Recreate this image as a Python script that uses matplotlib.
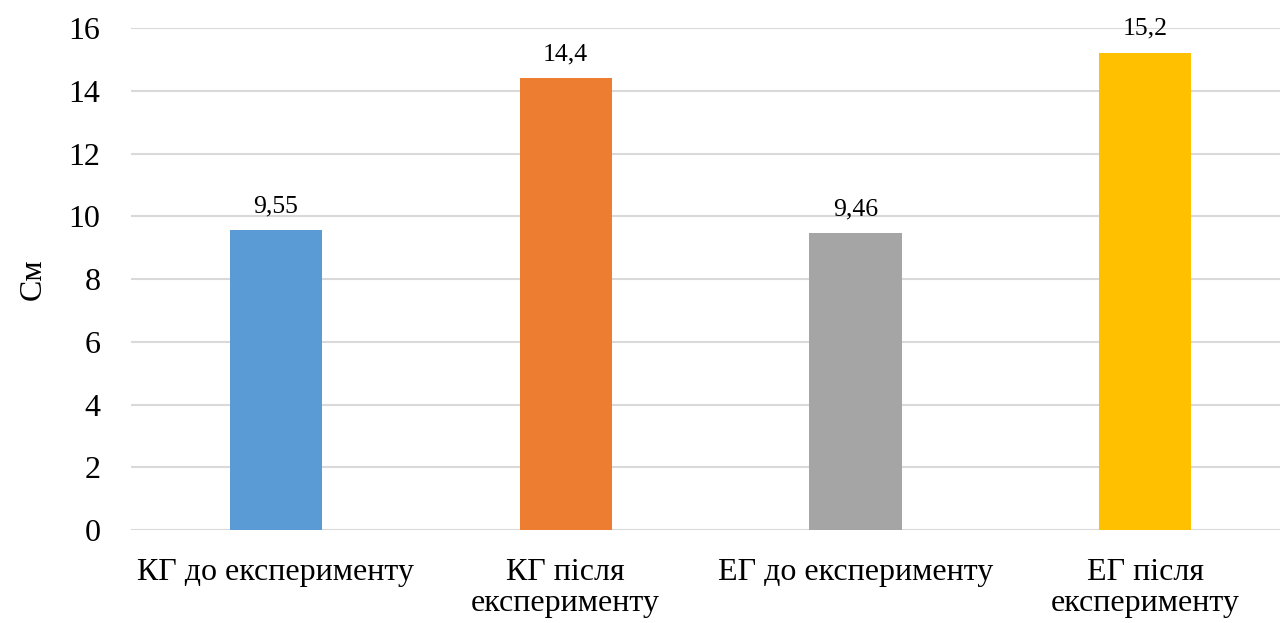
import matplotlib
matplotlib.use("Agg")
import matplotlib.pyplot as plt

categories = ["КГ до експерименту", "КГ після\nексперименту", "ЕГ до експерименту", "ЕГ після\nексперименту"]
values = [9.55, 14.4, 9.46, 15.2]
value_labels = ["9,55", "14,4", "9,46", "15,2"]
colors = ["#5B9BD5", "#ED7D31", "#A5A5A5", "#FFC000"]
yticks = [0, 2, 4, 6, 8, 10, 12, 14, 16]

plt.rcParams["font.family"] = ["Liberation Serif", "DejaVu Serif"]

fig = plt.figure(figsize=(12.83, 6.23), dpi=100)
ax = fig.add_axes([0.102, 0.149, 0.896, 0.806])

x = list(range(len(categories)))
bars = ax.bar(x, values, width=0.318, color=colors, zorder=3)

for xi, v, lab in zip(x, values, value_labels):
    ax.annotate(lab, (xi, v), xytext=(0, 9.5), textcoords="offset points",
                ha="center", va="bottom", fontsize=18.5, color="#000000")

ax.set_ylim(0, 16)
ax.set_xlim(-0.5, 3.466)
ax.set_yticks(yticks)
ax.set_yticklabels([str(t) for t in yticks], fontsize=23)
ax.set_xticks(x)
ax.set_xticklabels(categories, fontsize=23, linespacing=1.1)
ax.tick_params(axis="both", length=0)
ax.tick_params(axis="y", pad=22)
ax.tick_params(axis="x", pad=20)

ax.grid(axis="y", color="#D9D9D9", linewidth=1.5, zorder=0)
for s in ax.spines.values():
    s.set_visible(False)

ax.set_ylabel("См", fontsize=23, labelpad=15)

fig.savefig("out.png", dpi=100)
